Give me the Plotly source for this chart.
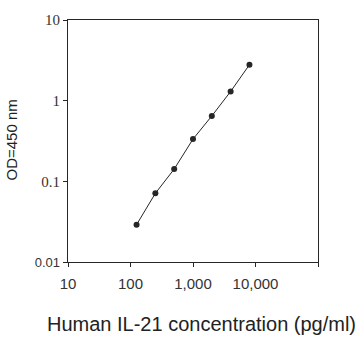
import plotly.graph_objects as go

# IL-21 standard curve: concentration (pg/ml) vs OD at 450 nm
concentration = [125, 250, 500, 1000, 2000, 4000, 8000]
od450 = [0.029, 0.071, 0.142, 0.334, 0.646, 1.30, 2.79]

x_tickvals = [10, 100, 1000, 10000, 100000]
x_ticktext = ["10", "100", "1,000", "10,000", ""]
y_tickvals = [0.01, 0.1, 1, 10]
y_ticktext = [
    '<span style="font-family:Arial, Liberation Sans;font-size:13px">0.01</span>',
    "0.1",
    "1",
    "10",
]

ink = "#262626"

fig = go.Figure(
    go.Scatter(
        x=concentration,
        y=od450,
        mode="lines+markers",
        line=dict(color=ink, width=1),
        marker=dict(color=ink, size=6, symbol="circle"),
        showlegend=False,
    )
)

fig.update_layout(
    width=360,
    height=339,
    margin=dict(l=68, r=42, t=15, b=77),
    paper_bgcolor="white",
    plot_bgcolor="white",
    xaxis=dict(
        type="log",
        range=[1, 5],
        tickvals=x_tickvals,
        ticktext=x_ticktext,
        ticks="outside",
        ticklen=4,
        tickcolor=ink,
        ticklabelstandoff=4,
        showline=True,
        linecolor=ink,
        linewidth=1,
        mirror=True,
        showgrid=False,
        zeroline=False,
        tickfont=dict(family="Arial, Liberation Sans", size=15, color="#333"),
    ),
    yaxis=dict(
        type="log",
        range=[-2, 1],
        tickvals=y_tickvals,
        ticktext=y_ticktext,
        ticks="outside",
        ticklen=4,
        tickcolor=ink,
        showline=True,
        linecolor=ink,
        linewidth=1,
        mirror=True,
        showgrid=False,
        zeroline=False,
        tickfont=dict(family="Times New Roman, Liberation Serif", size=15, color="#333"),
    ),
    annotations=[
        dict(
            text="Human IL-21 concentration (pg/ml)",
            xref="paper", yref="paper",
            x=(201 - 68) / 250, y=(262 - 325) / 247,
            xanchor="center", yanchor="middle",
            showarrow=False,
            font=dict(family="Arial, Liberation Sans", size=20, color="#222"),
        ),
        dict(
            text="OD=450 nm",
            xref="paper", yref="paper",
            x=(12 - 68) / 250, y=(262 - 138) / 247,
            xanchor="center", yanchor="middle",
            textangle=-90,
            showarrow=False,
            font=dict(family="Arial, Liberation Sans", size=15, color="#222"),
        ),
    ],
)

fig.write_html("out.html")
